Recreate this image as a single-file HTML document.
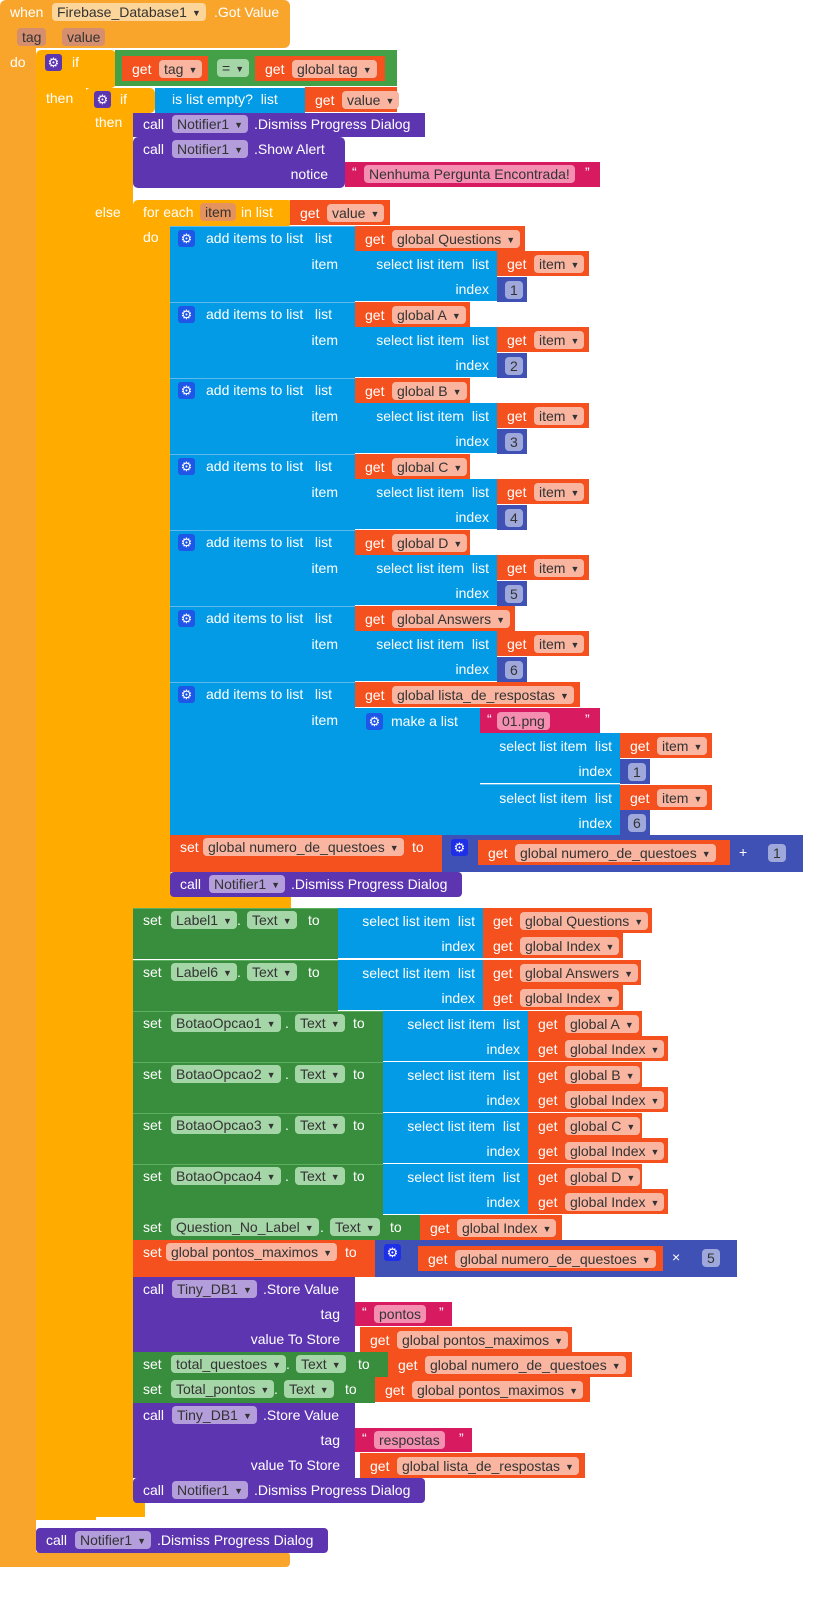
<!DOCTYPE html>
<html><head><meta charset="utf-8">
<style>
body{margin:0;width:821px;height:1603px;background:#fff;position:relative;overflow:hidden;font-family:"Liberation Sans",Arial,sans-serif;}
.r{position:absolute;box-sizing:border-box;}
.t{position:absolute;color:#fff;font-size:14px;line-height:18px;white-space:nowrap;}
.f{position:absolute;height:18px;line-height:18px;font-size:14px;color:#333;border-radius:4px;padding:0 5px;box-sizing:border-box;white-space:nowrap;}
.f i{font-style:normal;font-size:9px;margin-left:5px;vertical-align:1px;}
.g{position:absolute;width:17px;height:17px;border-radius:3px;color:#fff;font-size:13px;line-height:17px;text-align:center;}
</style></head><body>
<div id="c"></div>
<script>
var h='';
function R(x,y,w,hh,c,br){h+='<div class="r" style="left:'+x+'px;top:'+y+'px;width:'+w+'px;height:'+hh+'px;background:'+c+';border-radius:'+(br||0)+'px"></div>';}
function T(x,cy,s,al){h+='<div class="t" style="'+(al?'right:'+(821-x)+'px':'left:'+x+'px')+';top:'+(cy-9)+'px">'+s+'</div>';}
function F(x,cy,s,bg,dd){h+='<div class="f" style="left:'+x+'px;top:'+(cy-9)+'px;background:'+bg+'">'+s+(dd?'<i>&#9660;</i>':'')+'</div>';}
function Gr(x,cy,c){h+='<div class="g" style="left:'+x+'px;top:'+(cy-8.5)+'px;background:'+c+'">&#9881;</div>';}
var EV='#F9A52C',CT='#FFAB00',LG='#43A047',RD='#F4511E',BL='#039BE5',PU='#5E35B1',MT='#3F51B5',PK='#D81B60',ST='#388E3C';
function get(x,y,w,s){R(x,y,w,25,RD);T(x+10,y+12.5,'get');F(x+37,y+12.5,s,'#F9B5A0',1);}
function num(x,y,s){R(x,y,30,25,MT);F(x+8,y+12.5,s,'#9FA8DA',0);}
function sel(x,y,w,a,b,bw){R(x,y,w,50,BL);T(x+w-8,y+12.5,'select list item &nbsp;list',1);T(x+w-8,y+37.5,'index',1);}
// event block
R(0,0,290,48,EV,6);R(0,40,36,1527,EV);R(0,1552,290,15,EV,4);
T(10,12,'when');F(52,12,'Firebase_Database1','#FCD59A',1);T(214,12,'.Got Value');
F(17,37,'tag','#D58F6E',0);F(62,37,'value','#D58F6E',0);
T(10,62,'do');
// outer if
R(36,50,80,38,CT,5);R(36,80,50,1440,CT);R(36,1505,60,15,CT);
Gr(45,62,'#5E35B1');T(72,62,'if');T(46,98,'then');
R(115,50,282,36,LG);get(122,56,86,'tag');F(217,68,'=','#A5D6A7',1);get(255,56,130,'global tag');
// inner if
R(85,88,70,25,CT,5);R(85,105,48,1410,CT);R(85,1500,60,17,CT);
Gr(94,99,'#5E35B1');T(120,99,'if');T(95,122,'then');T(95,212,'else');
R(155,88,150,25,BL);T(172,99,'is list empty? &nbsp;list');get(305,87,92,'value');
R(133,113,292,24,PU);T(143,124,'call');F(172,124,'Notifier1','#B39DDB',1);T(254,124,'.Dismiss Progress Dialog');
R(133,137,212,51,PU,5);T(143,149,'call');F(172,149,'Notifier1','#B39DDB',1);T(254,149,'.Show Alert');T(328,174,'notice',1);
R(345,162,255,25,PK);T(352,172,'&#8220;');F(364,174,'Nenhuma Pergunta Encontrada!','#F48FB1',0);T(585,172,'&#8221;');
// for each
R(133,200,160,26,CT,5);R(133,220,38,680,CT);R(133,895,158,13,CT);
T(143,212,'for each');F(200,212,'item','#E5935E',0);T(241,212,'in list');get(290,200,100,'value');T(143,237,'do');
var items=[['global Questions',170,'1'],['global A',115,'2'],['global B',115,'3'],['global C',115,'4'],['global D',115,'5'],['global Answers',160,'6']];
for(var i=0;i<6;i++){var y=226+i*76;R(170,y,185,76,BL);R(170,y,185,1,'#5FB9EC');Gr(178,y+12,'#1E56E8');T(206,y+12,'add items to list &nbsp; list');T(338,y+38,'item',1);
get(355,y,items[i][1],items[i][0]);sel(345,y+25,152);get(497,y+25,92,'item');num(497,y+51,items[i][2]);}
var y=682;R(170,y,185,153,BL);R(170,y,185,1,'#5FB9EC');Gr(178,y+12,'#1E56E8');T(206,y+12,'add items to list &nbsp; list');T(338,y+38,'item',1);
get(355,y,225,'global lista_de_respostas');R(345,708,135,127,BL);Gr(366,721,'#1E56E8');T(391,721,'make a list');
R(480,708,120,25,PK);T(487,719,'&#8220;');F(497,721,'01.png','#F48FB1',0);T(585,719,'&#8221;');
sel(480,733,140);get(620,733,92,'item');num(620,759,'1');R(480,784,140,1,'#5FB9EC');sel(480,785,140);get(620,785,92,'item');num(620,810,'6');
R(170,835,272,37,RD);T(180,847,'set');F(203,847,'global numero_de_questoes','#F9B5A0',1);T(412,847,'to');
R(442,835,361,37,MT);Gr(451,847,'#1E2FE8');get(478,840,252,'global numero_de_questoes');T(739,852,'+');num(760,840,'1');
R(170,872,292,25,PU,4);T(180,884,'call');F(209,884,'Notifier1','#B39DDB',1);T(291,884,'.Dismiss Progress Dialog');
// setters
function setL(y,n,nw,sx,a,aw){R(133,y,sx-133,51,ST);R(133,y,sx-133,1,'#5DAE61');T(143,y+12,'set');F(171,y+12,n,'#A5D6A7',1);T(171+nw+4,y+12,'.');F(171+nw+14,y+12,'Text','#A5D6A7',1);T(sx-30,y+12,'to');
sel(sx,y,145);get(sx+145,y,aw,a);get(sx+145,y+25,aw<140?140:140,'global Index');}
setL(908,'Label1',62,338,'global Questions',169);
setL(960,'Label6',62,338,'global Answers',158);
setL(1011,'BotaoOpcao1',110,383,'global A',114);
setL(1062,'BotaoOpcao2',110,383,'global B',114);
setL(1113,'BotaoOpcao3',110,383,'global C',114);
setL(1164,'BotaoOpcao4',110,383,'global D',114);
R(133,1215,290,25,ST);T(143,1227,'set');F(171,1227,'Question_No_Label','#A5D6A7',1);T(320,1227,'.');F(330,1227,'Text','#A5D6A7',1);T(390,1227,'to');get(420,1215,142,'global Index');
R(133,1240,245,37,RD);T(143,1252,'set');F(166,1252,'global pontos_maximos','#F9B5A0',1);T(345,1252,'to');
R(375,1240,362,37,MT);Gr(384,1252,'#1E2FE8');get(418,1246,245,'global numero_de_questoes');T(672,1257,'&#215;');num(694,1245,'5');
function store(y,tag,tw,v,vw){R(133,y,222,75,PU);T(143,y+12,'call');F(172,y+12,'Tiny_DB1','#B39DDB',1);T(263,y+12,'.Store Value');T(340,y+37,'tag',1);T(340,y+62,'value To Store',1);
R(355,y+25,tw,24,PK);T(362,y+35,'&#8220;');F(374,y+37,tag,'#F48FB1',0);T(355+tw-13,y+35,'&#8221;');get(360,y+50,vw,v);}
store(1277,'pontos',97,'global pontos_maximos',212);
R(133,1352,255,25,ST);T(143,1364,'set');F(171,1364,'total_questoes','#A5D6A7',1);T(286,1364,'.');F(296,1364,'Text','#A5D6A7',1);T(358,1364,'to');get(388,1352,244,'global numero_de_questoes');
R(133,1377,242,26,ST);T(143,1389,'set');F(171,1389,'Total_pontos','#A5D6A7',1);T(274,1389,'.');F(284,1389,'Text','#A5D6A7',1);T(345,1389,'to');get(375,1377,215,'global pontos_maximos');
store(1403,'respostas',117,'global lista_de_respostas',225);
R(133,1478,292,25,PU,4);T(143,1490,'call');F(172,1490,'Notifier1','#B39DDB',1);T(254,1490,'.Dismiss Progress Dialog');
R(36,1528,292,25,PU,4);T(46,1540,'call');F(75,1540,'Notifier1','#B39DDB',1);T(157,1540,'.Dismiss Progress Dialog');
document.getElementById('c').innerHTML=h;
</script>
</body></html>
